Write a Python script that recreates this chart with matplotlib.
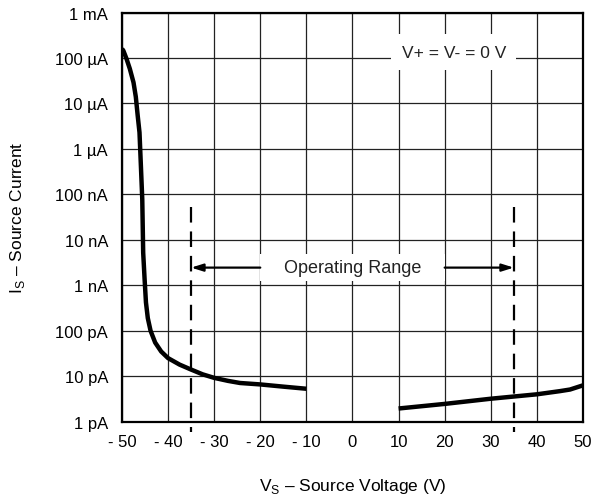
import numpy as np
import matplotlib.pyplot as plt
from matplotlib.patches import Rectangle

plt.rcParams['font.family'] = ['Liberation Sans', 'DejaVu Sans']
plt.rcParams['mathtext.fontset'] = 'custom'
plt.rcParams['mathtext.rm'] = 'Liberation Sans'

# negative supply branch (V, A)
vs_neg = [-50, -49.7, -49.0, -48.3, -47.5, -47.0, -46.6, -46.2, -45.9, -45.6, -45.4, -45.1,
          -44.8, -44.4, -43.8, -42.8, -41.5, -40, -37.5, -35, -32.5, -30, -27, -24.4, -20, -15, -10]
is_neg = [1.6e-4, 1.45e-4, 9.5e-5, 5.8e-5, 2.9e-5, 1.4e-5, 5.5e-6, 2.3e-6, 4.3e-7, 7.8e-8, 5.2e-9, 1.4e-9,
          4.2e-10, 1.9e-10, 1.0e-10, 5.5e-11, 3.5e-11, 2.5e-11, 1.8e-11, 1.4e-11, 1.1e-11, 9.2e-12, 7.9e-12, 7.1e-12, 6.6e-12, 5.9e-12, 5.3e-12]

# positive supply branch
vs_pos = [10, 20, 30, 40, 45, 47.2, 50]
is_pos = [1.95e-12, 2.46e-12, 3.2e-12, 4.0e-12, 4.7e-12, 5.1e-12, 6.3e-12]

x_ticks = [-50, -40, -30, -20, -10, 0, 10, 20, 30, 40, 50]
x_labels = ['- 50', '- 40', '- 30', '- 20', '- 10', '0', '10', '20', '30', '40', '50']
y_ticks = [1e-12, 1e-11, 1e-10, 1e-9, 1e-8, 1e-7, 1e-6, 1e-5, 1e-4, 1e-3]
y_labels = ['1 pA', '10 pA', '100 pA', '1 nA', '10 nA', '100 nA', '1 µA', '10 µA', '100 µA', '1 mA']

op_limits = [-35, 35]
op_level = 2.45e-9

fig = plt.figure(figsize=(5.91, 5.02), dpi=100)
ax = fig.add_axes([0.2064, 0.158, 0.78, 0.815])

ax.set_yscale('log')
ax.set_xlim(-50, 50)
ax.set_ylim(1e-12, 1e-3)
ax.set_xticks(x_ticks)
ax.set_xticklabels(x_labels)
ax.set_yticks(y_ticks)
ax.set_yticklabels(y_labels)
ax.minorticks_off()
ax.tick_params(length=0, labelsize=12, pad=9)
ax.tick_params(axis='y', pad=10)
ax.grid(True, color='#222222', lw=0.9)
ax.set_axisbelow(True)
for s in ax.spines.values():
    s.set_linewidth(1.6)

ax.plot(vs_neg, is_neg, color='k', lw=3.2, solid_capstyle='butt', solid_joinstyle='round', zorder=3)
ax.plot(vs_pos, is_pos, color='k', lw=3.2, solid_capstyle='butt', solid_joinstyle='round', zorder=3)

# operating range markers
for v in op_limits:
    ax.plot([v, v], [5.2e-8, 5.8e-13], color='k', lw=1.6, dashes=(7, 4),
            clip_on=False, zorder=3)
ax.annotate('', xy=(op_limits[0], op_level), xytext=(-20, op_level),
            arrowprops=dict(arrowstyle='-|>,head_length=0.7,head_width=0.22',
                            color='k', lw=1.6, shrinkA=0, shrinkB=0))
ax.annotate('', xy=(op_limits[1], op_level), xytext=(20, op_level),
            arrowprops=dict(arrowstyle='-|>,head_length=0.7,head_width=0.22',
                            color='k', lw=1.6, shrinkA=0, shrinkB=0))
ax.add_patch(Rectangle((-20, op_level / 2.0), 40, op_level * 2.0 - op_level / 2.0,
                       fc='white', ec='none', zorder=2.5))
ax.text(0, op_level, 'Operating Range', ha='center', va='center', fontsize=13,
        color='#222222', zorder=4)

ax.text(22.0, 1.35e-4, 'V+ = V- = 0 V', ha='center', va='center', fontsize=12.5, color='#222222',
        bbox=dict(boxstyle='square,pad=0.6', fc='white', ec='none'), zorder=4)

ax.set_xlabel('V$_\\mathregular{S}$ – Source Voltage (V)', fontsize=12.5, labelpad=19)
ax.set_ylabel('I$_\\mathregular{S}$ – Source Current', fontsize=12.5, labelpad=20)

fig.savefig('out.png', dpi=100)
